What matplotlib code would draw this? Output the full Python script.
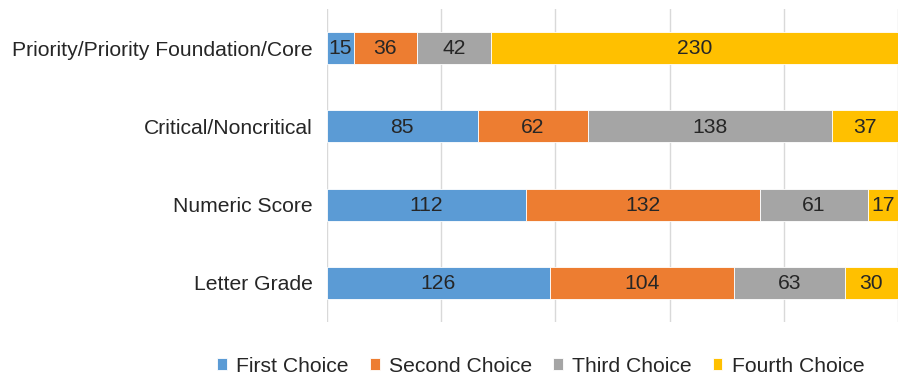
import matplotlib
matplotlib.use("Agg")
import matplotlib.pyplot as plt
import numpy as np

plt.rcParams["font.family"] = ["Liberation Sans", "DejaVu Sans"]

categories = ["Priority/Priority Foundation/Core", "Critical/Noncritical",
              "Numeric Score", "Letter Grade"]
series_names = ["First Choice", "Second Choice", "Third Choice", "Fourth Choice"]
first = [15, 85, 112, 126]
second = [36, 62, 132, 104]
third = [42, 138, 61, 63]
fourth = [230, 37, 17, 30]
colors = ["#5B9BD5", "#ED7D31", "#A5A5A5", "#FFC000"]

counts = np.array([first, second, third, fourth], dtype=float)
shares = counts / counts.sum(axis=0) * 100  # 100% stacked

FS = 15.2

fig = plt.figure(figsize=(9.05, 3.77), dpi=100)
ax = fig.add_axes([327 / 905, 55 / 377, 571 / 905, 313 / 377])

y = np.arange(len(categories))
left = np.zeros(len(categories))
handles = []
for i, name in enumerate(series_names):
    bars = ax.barh(y, shares[i], left=left, height=0.41, color=colors[i],
                   edgecolor="white", linewidth=0.6, label=name, zorder=3)
    handles.append(bars)
    for j in range(len(categories)):
        ax.text(left[j] + shares[i][j] / 2, y[j] + 0.01, f"{int(counts[i][j])}",
                ha="center", va="center", fontsize=FS, color="#262626",
                zorder=4)
    left += shares[i]

ax.set_xlim(0, 100)
ax.set_ylim(len(categories) - 0.5, -0.5)
ax.set_xticks(np.arange(0, 101, 20))
ax.set_xticklabels([])
ax.tick_params(axis="x", length=0)
ax.tick_params(axis="y", length=0, pad=10, labelsize=FS, labelcolor="#262626")
ax.set_yticks(y)
ax.set_yticklabels(categories)
ax.grid(axis="x", color="#D9D9D9", linewidth=1, zorder=0)
for s in ax.spines.values():
    s.set_visible(False)

fig.legend(handles=handles, labels=series_names, loc="center",
           bbox_to_anchor=(541 / 905, 1 - 366 / 377), ncol=4, frameon=False,
           fontsize=FS, handlelength=0.45, handleheight=0.45,
           handletextpad=0.45, columnspacing=1.0, labelcolor="#262626")

fig.savefig("out.png")
